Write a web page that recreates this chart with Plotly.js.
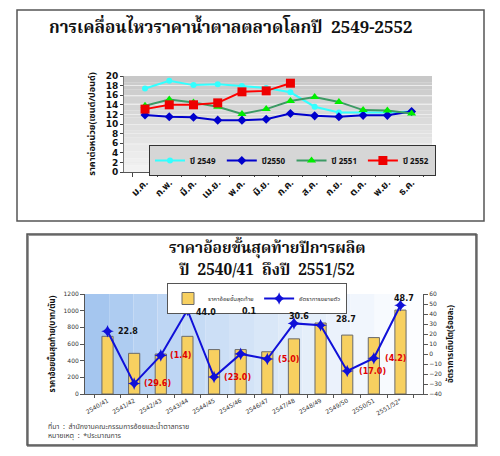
<!DOCTYPE html>
<html><head><meta charset="utf-8">
<script src="https://cdn.plot.ly/plotly-3.0.1.min.js"></script>
<style>html,body{margin:0;padding:0;background:#fff}#c{width:500px;height:456px}</style>
</head><body><div id="c"></div>
<script>
// ---- Top chart data (cents/lb) ----
const months = ['ม.ค.','ก.พ.','มี.ค.','เม.ย.','พ.ค.','มิ.ย.','ก.ค.','ส.ค.','ก.ย.','ต.ค.','พ.ย.','ธ.ค.'];
const y2549 = [17.4,19.0,18.1,18.3,17.9,17.5,16.6,13.6,12.4,12.4,12.4,12.6];
const y2550 = [11.9,11.5,11.4,10.8,10.8,11.0,12.2,11.7,11.5,11.8,11.8,12.6];
const y2551 = [13.8,15.1,14.5,13.6,12.1,13.1,14.8,15.6,14.6,12.9,12.8,12.2];
const y2552 = [13.1,14.0,14.0,14.4,16.7,16.9,18.5];
const seriesNames = ['ปี 2549','ปี2550','ปี 2551','ปี 2552'];

// ---- Bottom chart data ----
const seasons = ['2540/41','2541/42','2542/43','2543/44','2544/45','2545/46','2546/47','2547/48','2548/49','2549/50','2550/51','2551/52*'];
const canePrice = [692,488,480,692,533,533,507,662,852,707,677,1007];
const growthPct = [22.8,-29.6,-1.4,44.0,-23.0,0.1,-5.0,30.6,28.7,-17.0,-4.2,48.7];
const barName = 'ราคาอ้อยขั้นสุดท้าย';
const lineName = 'อัตราการขยายตัว';

const W=500,H=456;
const px=x=>x/W, py=y=>1-y/H;
const thai = '"Noto Sans Thai","Noto Serif Thai","Loma","Garuda","Noto Sans","DejaVu Sans",sans-serif';
const thaiSerif = '"Noto Serif Thai","Norasi","Noto Sans Thai","Loma",serif';

const traces = [
 {x:months,y:y2549,name:seriesNames[0],type:'scatter',mode:'lines+markers',xaxis:'x',yaxis:'y',
  line:{color:'#33ffff',width:2},marker:{symbol:'circle',size:6,color:'#33ffff'},legend:'legend'},
 {x:months,y:y2550,name:seriesNames[1],type:'scatter',mode:'lines+markers',xaxis:'x',yaxis:'y',
  line:{color:'#0000cc',width:2},marker:{symbol:'diamond',size:7,color:'#0000cc'},legend:'legend'},
 {x:months,y:y2551,name:seriesNames[2],type:'scatter',mode:'lines+markers',xaxis:'x',yaxis:'y',
  line:{color:'#3c9a64',width:2},marker:{symbol:'triangle-up',size:8,color:'#00ee00'},legend:'legend'},
 {x:months.slice(0,y2552.length),y:y2552,name:seriesNames[3],type:'scatter',mode:'lines+markers',xaxis:'x',yaxis:'y',
  line:{color:'#ff0000',width:2},marker:{symbol:'square',size:9,color:'#ee0000'},legend:'legend'},
 {x:seasons,y:canePrice,name:barName,type:'bar',xaxis:'x2',yaxis:'y2',width:0.42,
  marker:{color:'#f7d060',line:{color:'#6a6a6a',width:1}},legend:'legend2'},
 {x:seasons,y:growthPct,name:lineName,type:'scatter',mode:'lines+markers',xaxis:'x2',yaxis:'y3',
  line:{color:'#1010d8',width:2},marker:{symbol:'star-diamond',size:9,color:'#1010d8'},legend:'legend2'}
];

// gradient bands (decoration)
const shapes=[];
function mix(a,b,t){const pa=[1,3,5].map(i=>parseInt(a.substr(i,2),16)),pb=[1,3,5].map(i=>parseInt(b.substr(i,2),16));
 return 'rgb('+pa.map((v,i)=>Math.round(v+(pb[i]-v)*t)).join(',')+')';}
const n=14;
for(let i=0;i<n;i++){
 shapes.push({type:'rect',xref:'x domain',yref:'y domain',x0:0,x1:1,y0:i/n,y1:(i+1)/n,layer:'below',line:{width:0},fillcolor:mix('#f4f4f4','#c6c6c6',(i+0.5)/n)});
}
for(let i=0;i<n;i++){
 shapes.push({type:'rect',xref:'x2 domain',yref:'y2 domain',x0:i/n,x1:(i+1)/n,y0:0,y1:1,layer:'below',line:{width:0},fillcolor:mix('#9ec2ee','#ffffff',Math.pow((i+0.5)/n,0.8))});
}
// frames
shapes.push({type:'rect',xref:'paper',yref:'paper',x0:px(17),x1:px(484),y0:py(221),y1:py(10),line:{color:'#555',width:1.5}});
shapes.push({type:'rect',xref:'paper',yref:'paper',x0:px(28),x1:px(477),y0:py(446),y1:py(235),line:{color:'#999',width:2}});
shapes.push({type:'rect',xref:'paper',yref:'paper',x0:px(27),x1:px(476),y0:py(445),y1:py(234),line:{color:'#555',width:1.5}});

const annotations=[
 {text:'การเคลื่อนไหวราคาน้ำตาลตลาดโลกปี  2549-2552',xref:'paper',yref:'paper',x:px(231),y:py(30),yanchor:'middle',yshift:1,showarrow:false,
  font:{family:thaiSerif,size:17,color:'#111',weight:'bold'}},
 {text:'ราคาอ้อยขั้นสุดท้ายปีการผลิต',xref:'paper',yref:'paper',x:px(267),y:py(248),yanchor:'middle',showarrow:false,
  font:{family:thaiSerif,size:15.5,color:'#111',weight:'bold'}},
 {text:'ปี  2540/41  ถึงปี  2551/52',xref:'paper',yref:'paper',x:px(267),y:py(271),yanchor:'middle',showarrow:false,
  font:{family:thaiSerif,size:15.5,color:'#111',weight:'bold'}},
 {text:'ที่มา  :  สำนักงานคณะกรรมการอ้อยและน้ำตาลทราย',xref:'paper',yref:'paper',x:px(46),y:py(426),xanchor:'left',yanchor:'middle',showarrow:false,
  font:{family:thai,size:7,color:'#444'}},
 {text:'หมายเหตุ  :  *ประมาณการ',xref:'paper',yref:'paper',x:px(46),y:py(436),xanchor:'left',yanchor:'middle',showarrow:false,
  font:{family:thai,size:7,color:'#444'}}
];
// growth labels: offsets are styling
const lblStyle=[['left',8,0],['left',8,0],['left',7,0],['left',7,-2],['left',8,0],['center',9,42],['left',9,0],['center',5,7],['center',25,6],['left',10,0],['left',9,0],['center',4,7]];
growthPct.forEach((v,i)=>{
 const s=lblStyle[i];
 annotations.push({x:seasons[i],y:v,xref:'x2',yref:'y3',showarrow:false,
  text:v<0?'('+Math.abs(v).toFixed(1)+')':v.toFixed(1),xanchor:s[0],xshift:s[1],yshift:s[2],
  font:{family:'DejaVu Sans',size:8,weight:'bold',color:v<0?'#e00000':'#111'}});
});

const layout={
 width:W,height:H,margin:{l:0,r:0,t:0,b:0},paper_bgcolor:'#fff',plot_bgcolor:'rgba(0,0,0,0)',
 showlegend:true,
 xaxis:{domain:[px(124),px(432)],type:'category',tickson:'boundaries',ticks:'outside',ticklen:4,tickcolor:'#444',
  showline:true,linecolor:'#555',tickangle:-45,tickfont:{family:thai,size:10,weight:'bold',color:'#111'},showgrid:false,anchor:'y'},
 yaxis:{domain:[py(172),py(76)],range:[0,20],dtick:2,ticks:'outside',ticklen:3,tickcolor:'#444',showline:true,linecolor:'#777',
  gridcolor:'#ececec',zeroline:false,tickfont:{family:'DejaVu Sans',size:9,weight:'bold',color:'#111'},
  title:{text:'ราคาต่อหน่วย(เซนต์/ปอนด์)',font:{family:thai,size:9,weight:'bold',color:'#111'},standoff:8},anchor:'x'},
 xaxis2:{domain:[px(85),px(423)],type:'category',tickson:'boundaries',ticks:'outside',ticklen:3,tickcolor:'#555',
  showline:true,linecolor:'#555',tickangle:-30,tickfont:{family:'DejaVu Sans',size:6,color:'#333'},showgrid:false,anchor:'y2'},
 yaxis2:{domain:[py(394),py(294)],range:[0,1200],dtick:200,ticks:'outside',ticklen:4,tickcolor:'#555',showline:true,linecolor:'#555',
  showgrid:false,zeroline:false,tickfont:{family:'DejaVu Sans',size:6,color:'#333'},
  title:{text:'ราคาอ้อยขั้นสุดท้าย(บาท/ตัน)',font:{family:thai,size:8,weight:'bold',color:'#111'},standoff:6},anchor:'x2'},
 yaxis3:{overlaying:'y2',side:'right',range:[-40,60],dtick:10,ticks:'outside',ticklen:4,tickcolor:'#555',showline:true,linecolor:'#555',
  showgrid:false,zeroline:false,tickfont:{family:'DejaVu Sans',size:6,color:'#333'},anchor:'x2',
  title:{text:'อัตราการเติบโต(ร้อยละ)',font:{family:thai,size:8,weight:'bold',color:'#111'},standoff:6}},
 legend:{x:px(149),y:py(145),xanchor:'left',yanchor:'top',orientation:'h',bgcolor:'#d6d6d6',bordercolor:'#333',borderwidth:1,
  font:{family:thai,size:8,weight:'bold',color:'#111'},itemwidth:30,tracegroupgap:0},
 legend2:{x:px(167),y:py(283),xanchor:'left',yanchor:'top',orientation:'h',bgcolor:'#fff',bordercolor:'#555',borderwidth:1,
  font:{family:thai,size:6,color:'#333'},itemwidth:30},
 bargap:0.5,
 shapes:shapes,annotations:annotations
};
Plotly.newPlot('c',traces,layout,{staticPlot:true});
</script></body></html>
